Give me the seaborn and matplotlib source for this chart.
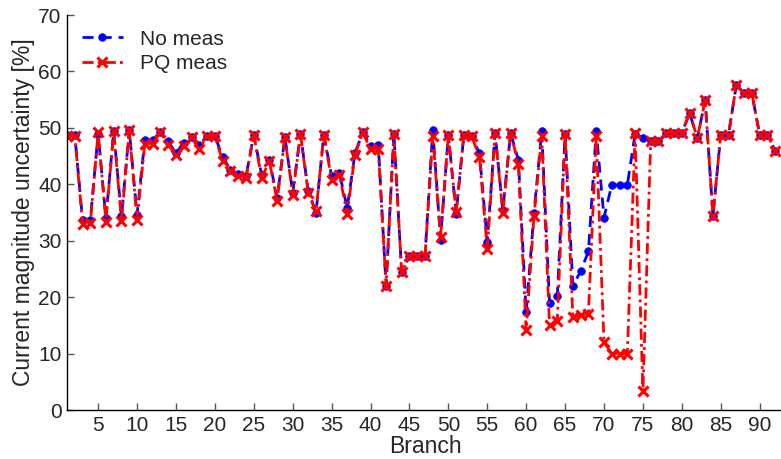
import matplotlib
matplotlib.use("Agg")
import matplotlib.pyplot as plt
import seaborn as sns
import numpy as np
import pandas as pd

branches = list(range(1, 93))

no_meas = [48.8, 48.8, 33.7, 33.7, 49.0, 34.0, 49.4, 34.3, 49.6, 34.6,
           47.9, 47.9, 49.2, 47.6, 45.5, 47.4, 48.3, 47.0, 48.6, 48.6,
           44.8, 42.6, 41.8, 41.4, 48.8, 41.7, 44.3, 37.6, 48.4, 38.5,
           48.9, 38.8, 35.0, 48.8, 41.5, 42.0, 35.8, 45.5, 49.2, 46.8,
           47.0, 22.0, 49.0, 24.4, 27.3, 27.3, 27.3, 49.6, 30.2, 48.8,
           34.8, 48.8, 48.5, 45.5, 29.8, 49.1, 35.5, 49.1, 44.3, 17.3,
           34.9, 49.4, 19.0, 20.2, 49.0, 22.0, 24.6, 28.1, 49.4, 34.1,
           39.9, 39.9, 39.9, 49.0, 48.2, 47.6, 47.6, 49.1, 49.1, 49.1,
           52.6, 48.2, 54.9, 34.4, 48.8, 48.8, 57.6, 56.1, 56.1, 48.8,
           48.8, 45.9]

pq_meas = [48.6, 48.6, 33.0, 33.1, 49.2, 33.4, 49.4, 33.5, 49.6, 33.7,
           47.2, 47.2, 49.2, 47.0, 45.2, 46.8, 48.3, 46.2, 48.6, 48.6,
           44.1, 42.3, 41.5, 41.1, 48.8, 41.1, 44.1, 37.1, 48.4, 38.1,
           48.9, 38.4, 35.2, 48.8, 40.8, 41.7, 34.8, 45.2, 49.2, 46.2,
           46.2, 22.0, 49.0, 24.4, 27.3, 27.3, 27.3, 48.6, 30.7, 48.7,
           35.1, 48.8, 48.5, 44.8, 28.5, 49.1, 34.9, 49.1, 43.6, 14.1,
           34.3, 48.6, 15.0, 15.8, 49.0, 16.4, 16.8, 17.1, 48.6, 12.0,
           10.0, 10.0, 10.0, 49.1, 3.3, 47.6, 47.6, 49.1, 49.1, 49.1,
           52.6, 48.2, 54.9, 34.4, 48.8, 48.8, 57.6, 56.1, 56.1, 48.8,
           48.8, 45.9]

x_ticks = list(range(5, 95, 5))
y_ticks = list(range(0, 80, 10))

sns.set_theme(style="ticks")
plt.rcParams['font.family'] = ['Liberation Sans', 'DejaVu Sans']
plt.rcParams['xtick.direction'] = 'in'
plt.rcParams['ytick.direction'] = 'in'

df = pd.DataFrame({"Branch": branches, "No meas": no_meas, "PQ meas": pq_meas})

fig = plt.figure(figsize=(7.81, 4.59), dpi=100)
ax = fig.add_axes([67/781, 49/459, 716/781, 395/459])

sns.lineplot(data=df, x="Branch", y="No meas", ax=ax, color="#0000ff",
             linestyle=(0, (4, 2.5)), linewidth=2, marker='o', markersize=5.5,
             markeredgewidth=0.5, markeredgecolor="#0000ff",
             markerfacecolor="#0000ff", label="No meas")
sns.lineplot(data=df, x="Branch", y="PQ meas", ax=ax, color="#ff0000",
             linestyle=(0, (4, 1.5, 1, 1.5)), linewidth=2, marker='x', markersize=7,
             markeredgewidth=2.2, markeredgecolor="#ff0000", label="PQ meas")

ax.set_xlim(1, 93)
ax.set_ylim(0, 70)
ax.set_xticks(x_ticks)
ax.set_yticks(y_ticks)
ax.tick_params(axis='both', labelsize=15, length=5, width=1, color='#555555', pad=4)
ax.set_xlabel("Branch", fontsize=16.5, labelpad=0.5)
ax.set_ylabel("Current magnitude uncertainty [%]", fontsize=16.5, labelpad=2)
for s in ['top', 'right']:
    ax.spines[s].set_visible(False)
for s in ['left', 'bottom']:
    ax.spines[s].set_color('black')
    ax.spines[s].set_linewidth(1)

leg = ax.legend(loc='upper left', frameon=False, fontsize=15, handlelength=2.0,
                bbox_to_anchor=(0.0, 1.0), borderaxespad=0.3, labelspacing=0.25,
                handletextpad=0.8)

fig.savefig("out.png", dpi=100)
